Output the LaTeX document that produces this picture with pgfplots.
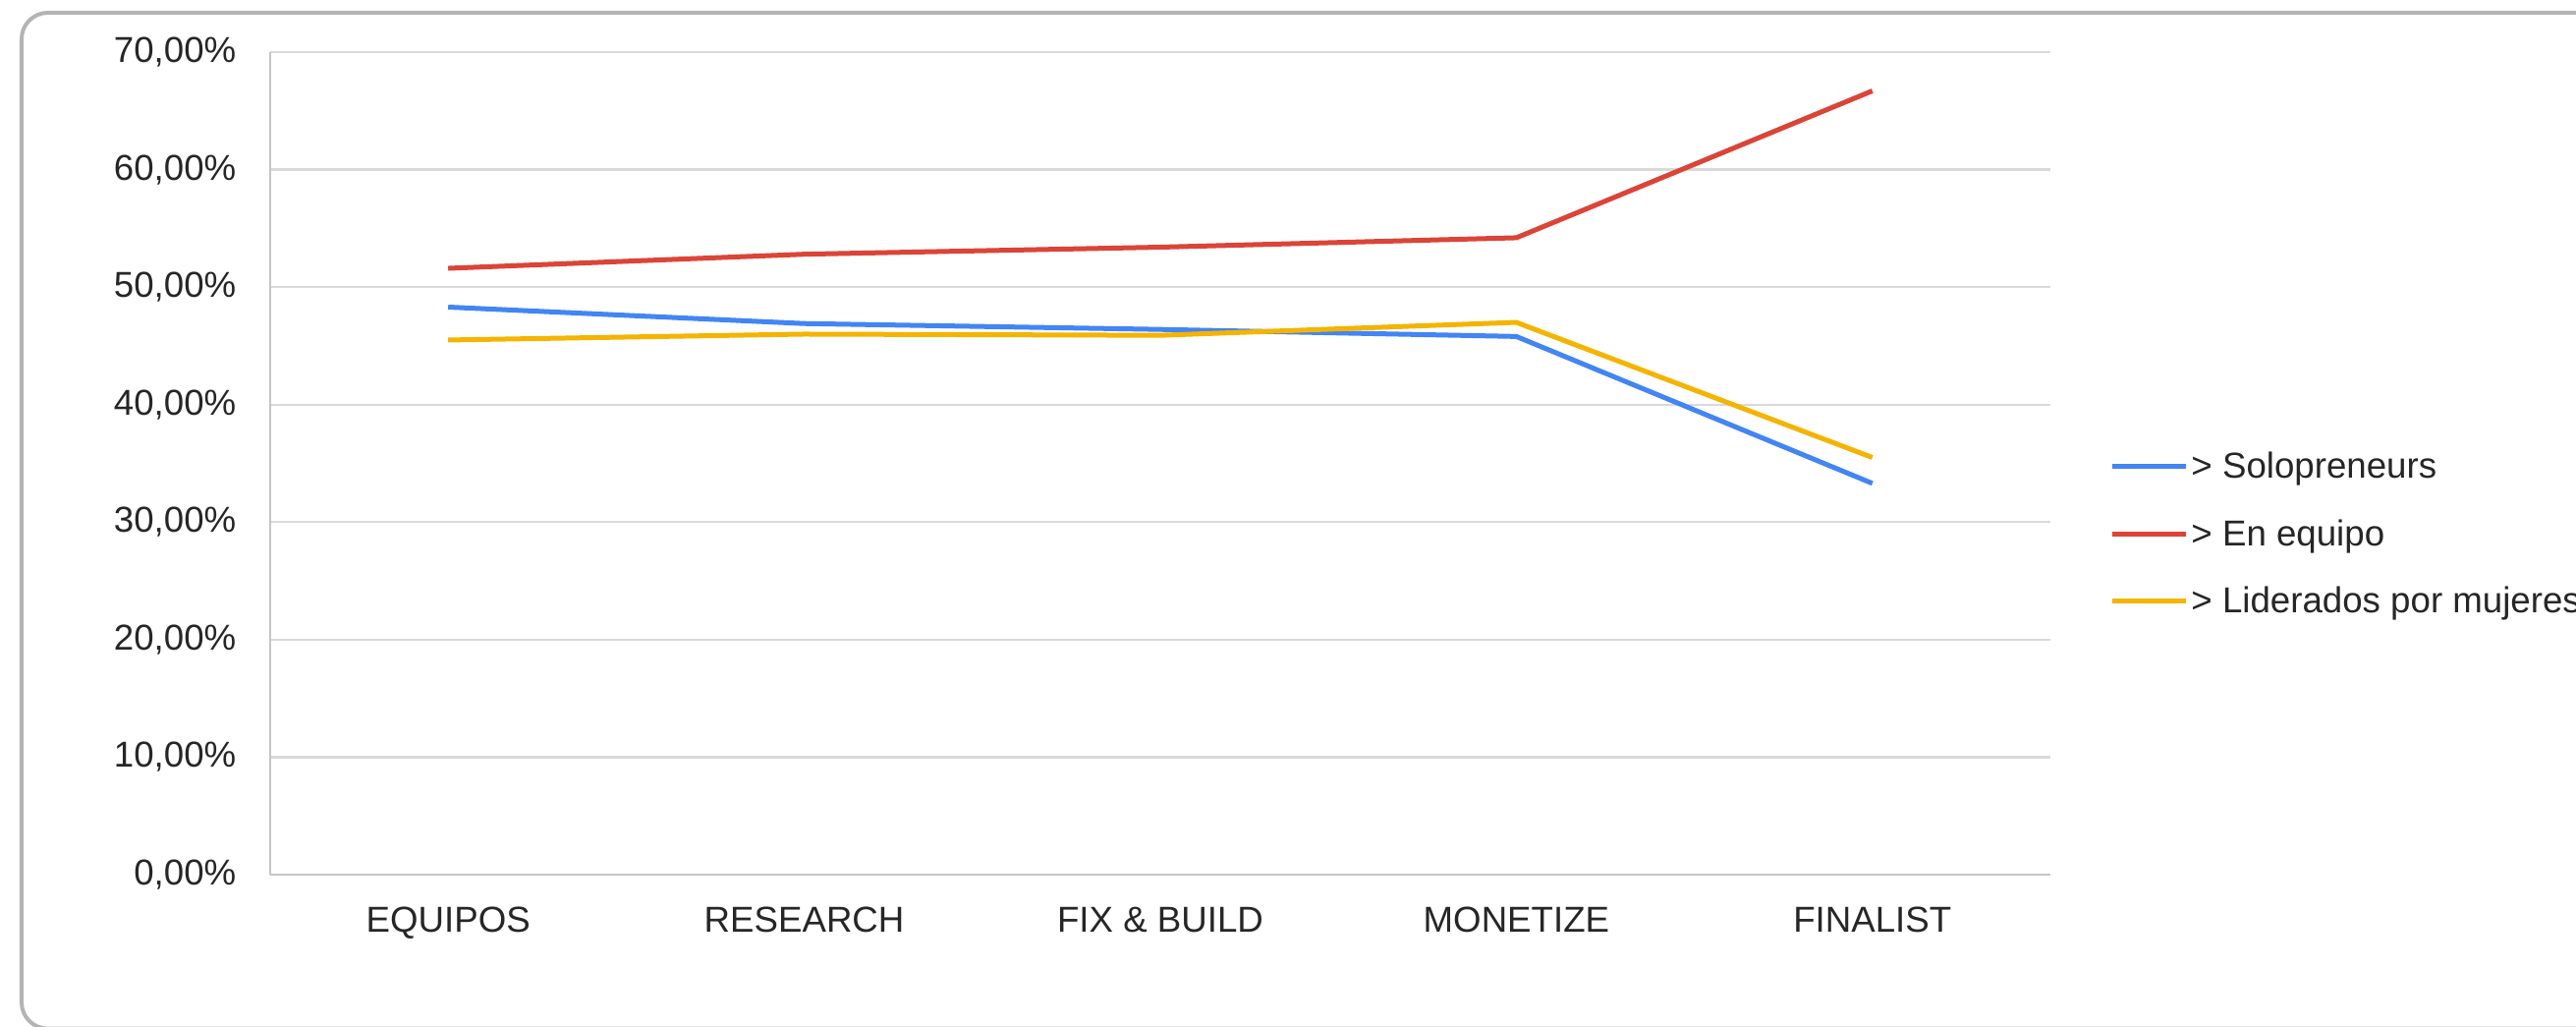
\documentclass[border=0pt]{standalone}
\usepackage{pgfplots}
\pgfplotsset{compat=1.18}
\usepackage{fontspec}
\setmainfont{Liberation Sans}

\definecolor{gblue}{HTML}{4285F4}
\definecolor{gred}{HTML}{DB4437}
\definecolor{gyellow}{HTML}{F4B400}
\definecolor{gridgray}{HTML}{D9D9D9}
\definecolor{axisgray}{HTML}{C6C6C6}
\definecolor{framegray}{HTML}{B4B4B4}
\definecolor{txtgray}{HTML}{262626}

\begin{document}
\begin{tikzpicture}
% page size: 2622 x 1044 px at 0.3pt per px, axis origin at px (275,890)
\path[use as bounding box] (-82.5pt,-46.2pt) rectangle (704.1pt,267pt);
\draw[framegray, line width=1.2pt, rounded corners=8pt] (-75.9pt,-47pt) rectangle (712pt,263.1pt);

\begin{axis}[
    at={(0pt,0pt)}, anchor=south west,
    scale only axis,
    width=543.6pt, height=251.1pt,
    xmin=-0.5, xmax=4.5,
    ymin=0, ymax=70,
    xtick={0,1,2,3,4},
    xticklabels={EQUIPOS,RESEARCH,{FIX \& BUILD},MONETIZE,FINALIST},
    ytick={0,10,20,30,40,50,60,70},
    yticklabels={{0,00\%},{10,00\%},{20,00\%},{30,00\%},{40,00\%},{50,00\%},{60,00\%},{70,00\%}},
    axis x line*=bottom,
    axis y line*=left,
    axis line style={axisgray, line width=0.8pt, -},
    major tick length=0pt,
    tick style={draw=none},
    ymajorgrids=true,
    grid style={gridgray, line width=0.7pt},
    every tick label/.append style={font=\fontsize{11}{13}\selectfont, text=txtgray},
    yticklabel style={anchor=east, inner xsep=0pt, xshift=-10.2pt},
    xticklabel style={anchor=base, yshift=-17.4pt},
    no markers,
    legend style={
        at={(1.0331,0.4110)}, anchor=west,
        draw=none, fill=none, inner sep=0pt,
        font=\fontsize{11}{13}\selectfont, text=txtgray,
        row sep=10pt, column sep=1pt,
        nodes={inner sep=0pt, text height=8pt, text depth=2.5pt, anchor=base west},
    },
    legend cell align=left,
    legend image code/.code={\draw[#1, line width=1.5pt] (0pt,3.6pt) -- (22.35pt,3.6pt);},
]
\addplot[gblue, line width=1.5pt, line join=round] coordinates {(0,48.3)(1,46.9)(2,46.4)(3,45.8)(4,33.3)};
\addlegendentry{> Solopreneurs}
\addplot[gred, line width=1.5pt, line join=round] coordinates {(0,51.6)(1,52.8)(2,53.4)(3,54.2)(4,66.7)};
\addlegendentry{> En equipo}
\addplot[gyellow, line width=1.5pt, line join=round] coordinates {(0,45.5)(1,46.0)(2,45.9)(3,47.0)(4,35.5)};
\addlegendentry{> Liderados por mujeres}
\end{axis}
\end{tikzpicture}
\end{document}
